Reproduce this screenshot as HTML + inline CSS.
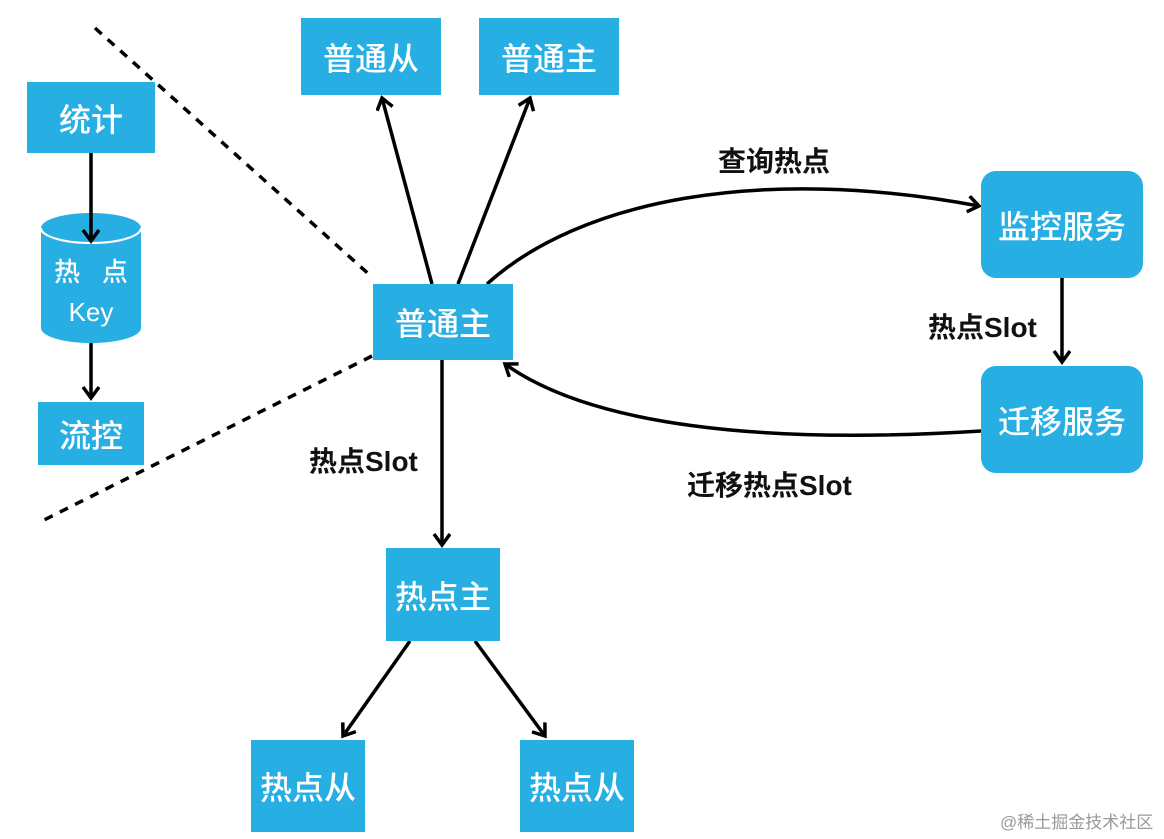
<!DOCTYPE html>
<html><head><meta charset="utf-8"><style>
html,body{margin:0;padding:0;background:#fff;}
body{width:1164px;height:839px;position:relative;overflow:hidden;font-family:"Liberation Sans","Noto Sans CJK SC",sans-serif;}
.b{position:absolute;background:#27aee3;color:#fff;display:flex;align-items:center;justify-content:center;font-size:32px;font-weight:500;}
.l{position:absolute;font-size:28px;font-weight:bold;color:#111;white-space:nowrap;}
</style></head><body>
<svg width="1164" height="839" style="position:absolute;left:0;top:0">
<defs><marker id="a" markerWidth="20" markerHeight="20" refX="13" refY="9" orient="auto" markerUnits="userSpaceOnUse"><path d="M2,1 L13,9 L2,17" fill="none" stroke="#000" stroke-width="3.5"/></marker></defs>
<g stroke="#000" stroke-width="3.5" fill="none">
<path d="M95,28 L372,277" stroke-dasharray="9,8"/>
<path d="M372,356 L38,523" stroke-dasharray="9,8"/>
<path d="M91,343 L91,398" marker-end="url(#a)"/>
<path d="M432,284 L382,98" marker-end="url(#a)"/>
<path d="M458,284 L530,98" marker-end="url(#a)"/>
<path d="M487,284 C580,200 760,165 979,206" marker-end="url(#a)"/>
<path d="M1062,278 L1062,362" marker-end="url(#a)"/>
<path d="M981,431 C760,445 590,425 505,364" marker-end="url(#a)"/>
<path d="M442,360 L442,545" marker-end="url(#a)"/>
<path d="M410,641 L343,736" marker-end="url(#a)"/>
<path d="M475,641 L545,736" marker-end="url(#a)"/>
</g>
<path d="M41,228 L41,328 A50,15 0 0 0 141,328 L141,228 A50,15 0 0 0 41,228 Z" fill="#27aee3"/>
<path d="M41,228 A50,15 0 0 0 141,228" fill="none" stroke="#fff" stroke-width="2"/>
<path d="M91,153 L91,241" stroke="#000" stroke-width="3.5" marker-end="url(#a)"/>
</svg>
<div class="b" style="left:27px;top:82px;width:128px;height:71px;">统计</div>
<div style="position:absolute;left:41px;top:252px;width:100px;text-align:center;color:#fff;font-size:26px;line-height:40px;font-weight:500;">热&nbsp;&nbsp;&nbsp;点<br>Key</div>
<div class="b" style="left:38px;top:402px;width:106px;height:63px;">流控</div>
<div class="b" style="left:301px;top:18px;width:140px;height:77px;">普通从</div>
<div class="b" style="left:479px;top:18px;width:140px;height:77px;">普通主</div>
<div class="b" style="left:373px;top:284px;width:140px;height:76px;">普通主</div>
<div class="b" style="left:981px;top:171px;width:162px;height:107px;border-radius:15px;">监控服务</div>
<div class="b" style="left:981px;top:366px;width:162px;height:107px;border-radius:15px;">迁移服务</div>
<div class="b" style="left:386px;top:548px;width:114px;height:93px;">热点主</div>
<div class="b" style="left:251px;top:740px;width:114px;height:92px;">热点从</div>
<div class="b" style="left:520px;top:740px;width:114px;height:92px;">热点从</div>
<div class="l" style="left:718px;top:140px;">查询热点</div>
<div class="l" style="left:928px;top:306px;">热点Slot</div>
<div class="l" style="left:687px;top:464px;">迁移热点Slot</div>
<div class="l" style="left:309px;top:440px;">热点Slot</div>
<div style="position:absolute;left:1000px;top:808px;font-size:17px;color:#999;">@稀土掘金技术社区</div>
</body></html>
